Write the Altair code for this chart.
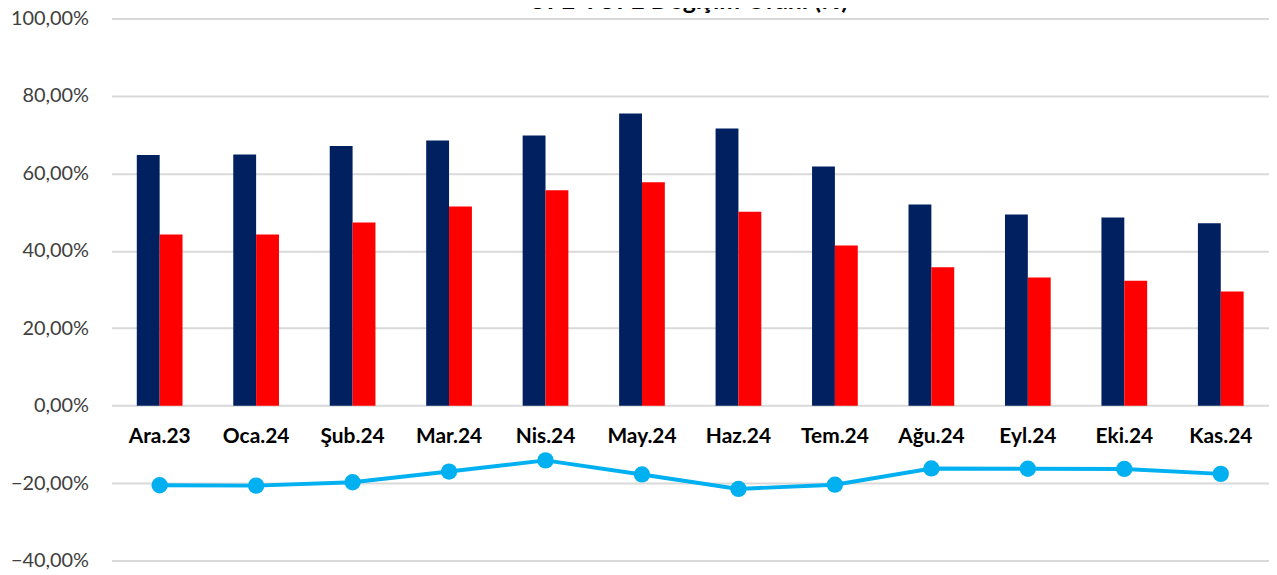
import altair as alt
import pandas as pd

# ---- data ----
months = ["Ara.23", "Oca.24", "Şub.24", "Mar.24", "Nis.24", "May.24",
          "Haz.24", "Tem.24", "Ağu.24", "Eyl.24", "Eki.24", "Kas.24"]
tufe = [64.77, 64.86, 67.07, 68.50, 69.80, 75.45, 71.60, 61.78, 51.97, 49.38, 48.58, 47.09]
ufe = [44.22, 44.20, 47.29, 51.47, 55.66, 57.68, 50.09, 41.37, 35.75, 33.09, 32.24, 29.47]
fark = [-20.55, -20.66, -19.78, -17.03, -14.14, -17.77, -21.51, -20.41, -16.22, -16.29, -16.34, -17.62]
series_names = ["TÜFE", "ÜFE"]
series_colors = ["#002060", "#FF0000"]
y_ticks = [-40, -20, 0, 20, 40, 60, 80, 100]
title_text = "ÜFE-TÜFE Değişim Oranı (%)"

bars_df = pd.DataFrame(
    [{"ay": m, "seri": series_names[0], "deger": v} for m, v in zip(months, tufe)]
    + [{"ay": m, "seri": series_names[1], "deger": v} for m, v in zip(months, ufe)]
)
line_df = pd.DataFrame({"ay": months, "deger": fark})

FONT = "Lato"

x_enc = alt.X(
    "ay:N",
    sort=months,
    scale=alt.Scale(paddingInner=0.526, paddingOuter=0.263),
    axis=alt.Axis(
        title=None, orient="bottom", offset=-156, domain=False, ticks=False,
        labelAngle=0, labelFont=FONT, labelFontSize=21, labelFontWeight="bold",
        labelColor="#000000", labelPadding=20, grid=False,
    ),
)
y_enc = alt.Y(
    "deger:Q",
    scale=alt.Scale(domain=[-40, 100], nice=False, zero=False),
    axis=alt.Axis(
        title=None, values=y_ticks, domain=False, ticks=False,
        labelExpr="replace(format(datum.value, '.2f'), '.', ',') + '%'",
        labelFont=FONT, labelFontSize=20, labelColor="#404040", labelPadding=23,
        grid=True, gridColor="#D9D9D9", gridWidth=2,
    ),
)

bars = alt.Chart(bars_df).mark_bar().encode(
    x=x_enc,
    y=y_enc,
    xOffset=alt.XOffset("seri:N", sort=series_names,
                        scale=alt.Scale(paddingInner=0, paddingOuter=0)),
    color=alt.Color("seri:N", sort=series_names,
                    scale=alt.Scale(domain=series_names, range=series_colors),
                    legend=None),
)

line = alt.Chart(line_df).mark_line(color="#00B0F0", strokeWidth=4).encode(
    x=x_enc, y=y_enc
)
points = alt.Chart(line_df).mark_circle(color="#00B0F0", size=270, opacity=1).encode(
    x=x_enc, y=y_enc
)

title = alt.Chart(pd.DataFrame({"t": [title_text]})).mark_text(
    font=FONT, fontSize=25, fontWeight="bold", align="center",
    baseline="alphabetic", color="#000000",
).encode(text="t:N", x=alt.value(580), y=alt.value(-10))

chart = alt.layer(bars, line, points, title).properties(
    width=1164,
    height=545,
    autosize=alt.AutoSizeParams(type="none"),
    padding={"left": 104, "top": 9, "right": 0, "bottom": 12},
).configure_view(stroke=None)

chart.save("out.html", embed_options={"renderer": "svg", "actions": False})
